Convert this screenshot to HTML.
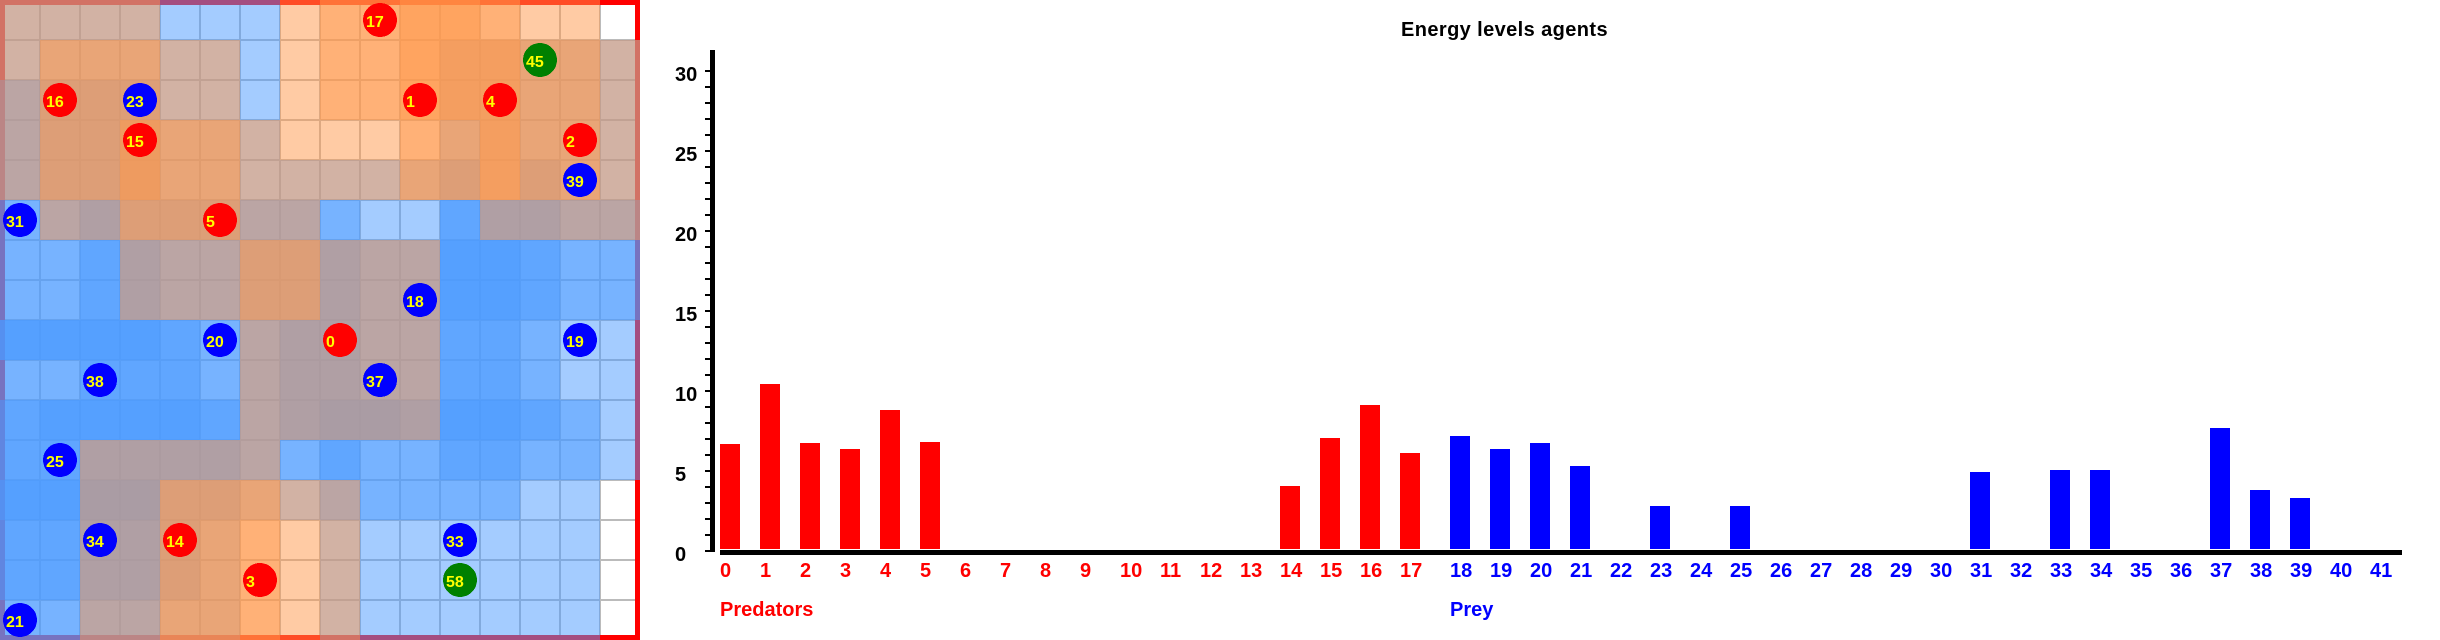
<!DOCTYPE html>
<html lang="en">
<head>
<meta charset="utf-8">
<title>Energy levels agents</title>
<style>
html,body{margin:0;padding:0;background:#fff;width:2440px;height:640px;overflow:hidden}
svg{display:block;position:absolute;left:0;top:0}
text{font-family:"Liberation Sans",sans-serif;font-weight:bold}
</style>
</head>
<body>
<svg id="stage" xmlns="http://www.w3.org/2000/svg" width="2440" height="640" viewBox="0 0 2440 640">
  <rect x="0" y="0" width="2440" height="640" fill="#ffffff"/>
  <g id="grid-lines" shape-rendering="crispEdges"></g>
  <rect x="2.5" y="2.5" width="635" height="635" fill="none" stroke="#ff0000" stroke-width="5" shape-rendering="crispEdges"/>
  <g id="cells" shape-rendering="crispEdges"></g>
  <g id="agents"></g>
  <text x="1401" y="36" font-size="20" letter-spacing="0.4" fill="#000000">Energy levels agents</text>
  <g id="y-axis"></g>
  <g id="bars" shape-rendering="crispEdges"></g>
  <rect x="720" y="550" width="1682" height="5" fill="#000000" shape-rendering="crispEdges"/>
  <g id="x-labels"></g>
  <text x="720" y="616" font-size="20" fill="#ff0000">Predators</text>
  <text x="1450" y="616" font-size="20" fill="#0000ff">Prey</text>
</svg>
<script>
// Terrain: each letter names a stack of translucent layers.
const terrainRows = [
  "DDDDJJJABBCCBAAW",
  "DEEEDDJABBCGGEED",
  "HFFFDDJABBCGGEED",
  "HFFQEEDAAABEGEED",
  "HFFQEEDDDDEFGFED",
  "KHIFFFHHKJJLIIHH",
  "KKLIHHFFIHHMMLKK",
  "KKLIHHFFIHHMMLKK",
  "MMMMLKHIIHHLLKJJ",
  "KKLLLKHIIHHLLKJJ",
  "LMMMMLHINNIMMLKJ",
  "LLIIIIHKLKKLLKKJ",
  "MMNNFFEDHKKKKJJW",
  "LLIIFEBADJJJJJJW",
  "LLIIFEBADJJJJJJW",
  "KKHHEEBADJJJJJJW"
];
const blueLayers = {W:0,J:1,K:2,L:3,M:4,A:0,B:0,C:0,D:1,E:1,G:1,Q:2,H:2,F:2,I:3,N:4};
const orangeLayers = {W:0,J:0,K:0,L:0,M:0,A:1,B:2,C:3,D:1,E:2,G:3,Q:3,H:1,F:2,I:1,N:1};

// Agents on the board.
const agentIds = [17,45,16,23,1,4,15,2,39,31,5,18,20,0,19,38,37,25,34,14,33,3,58,21];
const agentCols = [9,13,1,3,10,12,3,14,14,0,5,10,5,8,14,2,9,1,2,4,11,6,11,0];
const agentRows = [0,1,2,2,2,2,3,3,4,5,5,7,8,8,8,9,9,11,13,13,13,14,14,15];
const agentKinds = ["r","g","r","b","r","r","r","r","b","b","r","b","b","r","b","b","b","b","b","r","b","r","g","b"];

// Bar chart data.
const categories = [0,1,2,3,4,5,6,7,8,9,10,11,12,13,14,15,16,17,18,19,20,21,22,23,24,25,26,27,28,29,30,31,32,33,34,35,36,37,38,39,40,41];
const predatorValues = [6.56,10.31,6.63,6.25,8.69,6.69,0,0,0,0,0,0,0,0,3.94,6.94,9,6];
const preyValues = [7.06,6.25,6.63,5.19,0,2.69,0,2.69,0,0,0,0,0,4.81,0,4.94,4.94,0,0,7.56,3.69,3.19,0,0];
const yTickLabels = [0,5,10,15,20,25,30];
const yMax = 30;

const NS = "http://www.w3.org/2000/svg";
function make(tag, attrs, parent) {
  const el = document.createElementNS(NS, tag);
  for (const k in attrs) el.setAttribute(k, attrs[k]);
  parent.appendChild(el);
  return el;
}

// Scales
const CELL = 40;
function yScale(v) { return 551 - v * (480 / yMax); }
function xScale(i) { return i < predatorValues.length ? 720 + i * 40 : 1450 + (i - predatorValues.length) * 40; }
const BAR_W = 20;
const BAR_GAP = 2;

// Grid lines
const gridG = document.getElementById("grid-lines");
for (let i = 1; i < 16; i++) {
  const v = make("rect", {x: i * CELL - 1, y: 0, width: 2, height: 640, fill: "#bbbbbb"}, gridG);
  
  
  const h = make("rect", {x: 0, y: i * CELL - 1, width: 640, height: 2, fill: "#bbbbbb"}, gridG);
  
  
}

// Terrain cells
const cellsG = document.getElementById("cells");
terrainRows.forEach(function (row, r) {
  row.split("").forEach(function (code, c) {
    const cell = make("g", {}, cellsG);
    
    
    for (let i = 0; i < blueLayers[code]; i++) {
      make("rect", {x: c * CELL, y: r * CELL, width: CELL, height: CELL, fill: "rgb(73,153,255)", "fill-opacity": 0.5}, cell);
    }
    for (let i = 0; i < orangeLayers[code]; i++) {
      make("rect", {x: c * CELL, y: r * CELL, width: CELL, height: CELL, fill: "rgb(255,151,73)", "fill-opacity": 0.5}, cell);
    }
  });
});

// Agents
const agentsG = document.getElementById("agents");
const agentColors = {r: "#ff0000", b: "#0000ff", g: "#008000"};
agentIds.forEach(function (id, i) {
  const cx = agentCols[i] * CELL + 20;
  const cy = agentRows[i] * CELL + 20;
  const g = make("g", {}, agentsG);
  
  
  make("circle", {cx: cx, cy: cy, r: 17, fill: agentColors[agentKinds[i]], "shape-rendering": "crispEdges"}, g);
  const t = make("text", {x: cx - 14, y: cy + 7, "font-size": 16, fill: "#ffff00"}, g);
  t.textContent = String(id);
});

// Y axis
const yG = document.getElementById("y-axis");
const axisLine = make("rect", {x: 710, y: 50, width: 5, height: 502, fill: "#000000", "shape-rendering": "crispEdges"}, yG);


for (let v = 0; v <= yMax; v++) {
  const tick = make("rect", {x: 705, y: yScale(v) - 1, width: 5, height: 2, fill: "#000000", "shape-rendering": "crispEdges"}, yG);
  
  
}
yTickLabels.forEach(function (v) {
  const t = make("text", {x: 675, y: yScale(v) + 10, "font-size": 20, fill: "#000000"}, yG);
  
  
  t.textContent = String(v);
});

// Bars + x labels
const barsG = document.getElementById("bars");
const xG = document.getElementById("x-labels");
const allValues = predatorValues.concat(preyValues);
categories.forEach(function (cat, i) {
  const color = i < predatorValues.length ? "#ff0000" : "#0000ff";
  const v = allValues[i] || 0;
  if (v > 0) {
    const top = yScale(v) - BAR_GAP;
    const bar = make("rect", {x: xScale(i), y: top, width: BAR_W, height: yScale(0) - BAR_GAP - top, fill: color}, barsG);
    
    
  }
  const t = make("text", {x: xScale(i), y: 577, "font-size": 20, fill: color}, xG);
  
  
  t.textContent = String(cat);
});
</script>
</body>
</html>
